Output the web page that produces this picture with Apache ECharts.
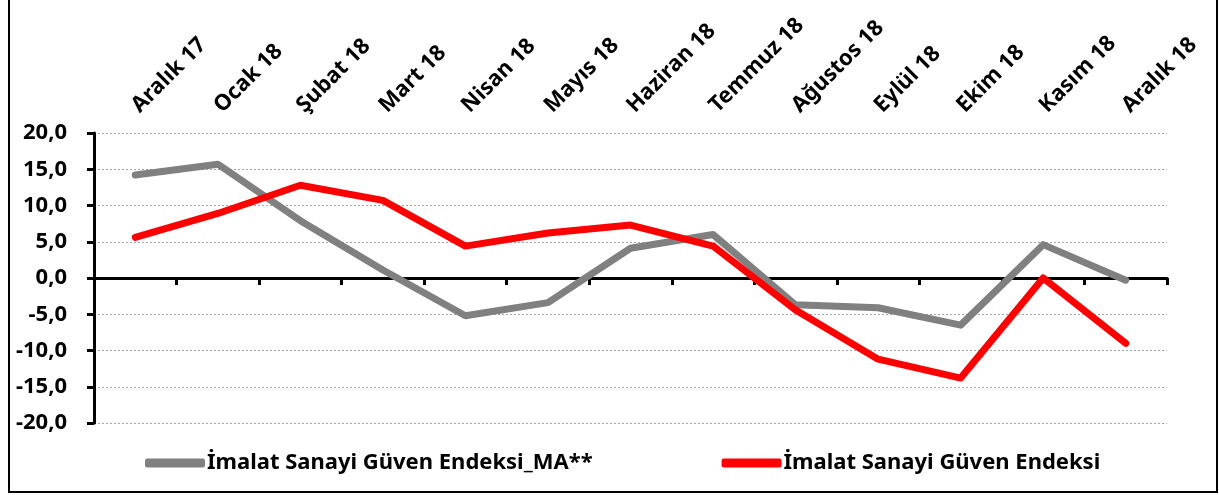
<!DOCTYPE html>
<html>
<head>
<meta charset="utf-8">
<script src="https://cdn.jsdelivr.net/npm/echarts@6/dist/echarts.min.js"></script>
<style>
  html, body { margin: 0; padding: 0; background: #fff; }
  #chart { width: 1219px; height: 495px; }
</style>
</head>
<body>
<div id="chart"></div>
<script>
const months = ['Aralık 17', 'Ocak 18', 'Şubat 18', 'Mart 18', 'Nisan 18', 'Mayıs 18', 'Haziran 18',
  'Temmuz 18', 'Ağustos 18', 'Eylül 18', 'Ekim 18', 'Kasım 18', 'Aralık 18'];
const maSeries = [14.2, 15.7, 7.9, 1.1, -5.2, -3.4, 4.1, 6.0, -3.7, -4.1, -6.5, 4.6, -0.3];
const indexSeries = [5.6, 8.9, 12.8, 10.7, 4.4, 6.2, 7.3, 4.4, -4.4, -11.2, -13.8, 0.0, -9.0];
const names = ['İmalat Sanayi Güven Endeksi_MA**', 'İmalat Sanayi Güven Endeksi'];

const font = 'Noto Sans';
const chart = echarts.init(document.getElementById('chart'), null, { renderer: 'canvas' });

chart.setOption({
  animation: false,
  grid: { left: 94, right: 52, top: 133, bottom: 72 },
  graphic: [{
    type: 'rect',
    shape: { x: 9, y: -5, width: 1208, height: 497 },
    style: { fill: 'none', stroke: '#000', lineWidth: 2 },
    silent: true
  }],
  legend: {
    left: 140,
    top: 447,
    itemGap: 129,
    itemWidth: 60,
    itemHeight: 9,
    icon: 'roundRect',
    textStyle: { fontFamily: font, fontWeight: 'bold', fontSize: 22, color: '#000', padding: [0, 0, 0, -3] },
    data: names
  },
  xAxis: [{
    type: 'category',
    data: months,
    position: 'bottom',
    axisLine: { onZero: true, lineStyle: { color: '#000', width: 3 } },
    axisTick: { show: true, length: 7, lineStyle: { color: '#000', width: 3 } },
    axisLabel: { show: false },
    splitLine: { show: false }
  }, {
    type: 'category',
    data: months,
    position: 'top',
    axisLine: { show: false },
    axisTick: { show: false },
    axisLabel: {
      rotate: -45,
      margin: 24,
      interval: 0,
      fontFamily: font,
      fontWeight: 'bold',
      fontSize: 22,
      color: '#000'
    }
  }],
  yAxis: {
    type: 'value',
    min: -20,
    max: 20,
    interval: 5,
    axisLine: { show: true, lineStyle: { color: '#000', width: 3 } },
    axisTick: { show: true, length: 7, lineStyle: { color: '#000', width: 3 } },
    axisLabel: {
      margin: 27,
      fontFamily: font,
      fontWeight: 'bold',
      fontSize: 22,
      color: '#000',
      formatter: v => v.toFixed(1).replace('.', ',')
    },
    splitLine: { lineStyle: { color: '#a6a6a6', type: [2, 2], width: 1 } }
  },
  series: [{
    name: names[0],
    type: 'line',
    xAxisIndex: 0,
    data: maSeries,
    symbol: 'none',
    lineStyle: { color: '#808080', width: 7, cap: 'round', join: 'round' },
    itemStyle: { color: '#808080' }
  }, {
    name: names[1],
    type: 'line',
    xAxisIndex: 0,
    data: indexSeries,
    symbol: 'none',
    lineStyle: { color: '#ff0000', width: 7, cap: 'round', join: 'round' },
    itemStyle: { color: '#ff0000' }
  }]
});
</script>
</body>
</html>
